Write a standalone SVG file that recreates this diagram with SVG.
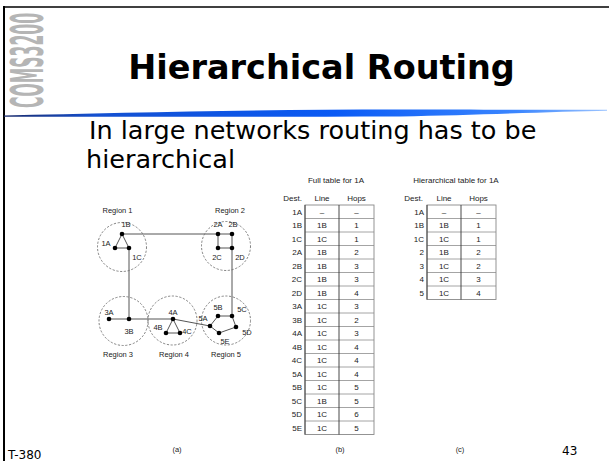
<svg xmlns="http://www.w3.org/2000/svg" width="609" height="461" viewBox="0 0 609 461">
<defs>
<linearGradient id="sw" x1="0" y1="0" x2="1" y2="0">
<stop offset="0" stop-color="#1a2a6a"/>
<stop offset="0.15" stop-color="#1450d0"/>
<stop offset="0.55" stop-color="#0a5af5"/>
<stop offset="0.85" stop-color="#3b86ff"/>
<stop offset="1" stop-color="#9cc4ff"/>
</linearGradient>
<style>
.fig{font-family:"Liberation Sans",Arial,sans-serif;font-size:7.5px;fill:#222}
.c{text-anchor:middle}
.r{text-anchor:end}
.reg{fill:none;stroke:#666;stroke-width:0.8;stroke-dasharray:2.2 1.6}
.ln{stroke:#555;stroke-width:1;fill:none}
.dot{fill:#000}
.hl{stroke:#9a9a9a;stroke-width:0.9}
.vl{stroke:#333;stroke-width:0.9}
.ob{fill:none;stroke:#888;stroke-width:0.9}
.tb{font-family:"Liberation Sans",Arial,sans-serif;font-size:8px;fill:#222}
.ver{font-family:"DejaVu Sans",Verdana,sans-serif;fill:#000}
</style>
</defs>
<rect x="0" y="0" width="609" height="461" fill="#fff"/>
<!-- frame -->
<line x1="3" y1="7" x2="609" y2="7" stroke="#000" stroke-width="1.5"/>
<line x1="4" y1="6" x2="4" y2="461" stroke="#000" stroke-width="2"/>
<!-- side label -->
<text transform="translate(43,108) rotate(-90) scale(0.38,1)" font-family="'DejaVu Sans Condensed','DejaVu Sans',sans-serif" font-weight="bold" font-size="45" fill="#b5b5b5" textLength="250" lengthAdjust="spacingAndGlyphs">COMS3200</text>
<!-- swoosh -->
<path d="M4 115.5 C120 113 250 109.5 400 109.5 C480 109.5 560 110 607 109.8 L607 110.8 C560 111.5 480 115 400 116.5 C250 117 120 116.5 4 116.8 Z" fill="url(#sw)"/>
<!-- title -->
<text class="ver" x="321.5" y="79" font-size="33.5" font-weight="bold" text-anchor="middle">Hierarchical Routing</text>
<text class="ver" x="89" y="139" font-size="25.5">In large networks routing has to be</text>
<text class="ver" x="86" y="168" font-size="25.5">hierarchical</text>

<!-- network (a) -->
<g id="connectors">
<path class="ln" d="M115 248 L122 234 L129 248 Z"/>
<path class="ln" d="M122 234 H218"/>
<path class="ln" d="M218 234 H232 V316 M218 234 V248 H232"/>
<path class="ln" d="M129 248 V319"/>
<path class="ln" d="M109 319 H173"/>
<path class="ln" d="M173 319 L166 333 H180 Z"/>
<path class="ln" d="M173 319 L210 326"/>
<path class="ln" d="M210 326 L218 316 H232 L236 327 L219 333 Z"/>
</g>
<g id="region1">
<circle class="reg" cx="122" cy="247" r="24.5"/>
<text class="fig c" x="117.5" y="212.7">Region 1</text>
<circle class="dot" cx="115" cy="248" r="2.3"/><circle class="dot" cx="122" cy="234" r="2.3"/><circle class="dot" cx="129" cy="248" r="2.3"/>
<text class="fig c" x="126" y="226.7">1B</text>
<text class="fig c" x="106" y="245.7">1A</text>
<text class="fig c" x="137" y="259.7">1C</text>
</g>
<g id="region2">
<circle class="reg" cx="226" cy="246" r="24.5"/>
<text class="fig c" x="230" y="212.7">Region 2</text>
<circle class="dot" cx="218" cy="234" r="2.3"/><circle class="dot" cx="232" cy="234" r="2.3"/><circle class="dot" cx="218" cy="248" r="2.3"/><circle class="dot" cx="232" cy="248" r="2.3"/>
<text class="fig c" x="218" y="226.7">2A</text>
<text class="fig c" x="233" y="226.7">2B</text>
<text class="fig c" x="217" y="259.7">2C</text>
<text class="fig c" x="240" y="259.7">2D</text>
</g>
<g id="region3">
<circle class="reg" cx="123.5" cy="321" r="24.5"/>
<text class="fig c" x="118" y="356.7">Region 3</text>
<circle class="dot" cx="109" cy="319" r="2.3"/><circle class="dot" cx="129" cy="319" r="2.3"/>
<text class="fig c" x="109" y="314.7">3A</text>
<text class="fig c" x="129" y="333.7">3B</text>
</g>
<g id="region4">
<circle class="reg" cx="172.5" cy="320.5" r="24.5"/>
<text class="fig c" x="174" y="356.7">Region 4</text>
<circle class="dot" cx="173" cy="319" r="2.3"/><circle class="dot" cx="166" cy="333" r="2.3"/><circle class="dot" cx="180" cy="333" r="2.3"/>
<text class="fig c" x="173" y="314.7">4A</text>
<text class="fig c" x="158" y="329.7">4B</text>
<text class="fig c" x="187" y="333.7">4C</text>
</g>
<g id="region5">
<circle class="reg" cx="226" cy="320.5" r="24.5"/>
<text class="fig c" x="226" y="356.7">Region 5</text>
<circle class="dot" cx="210" cy="326" r="2.3"/><circle class="dot" cx="218" cy="316" r="2.3"/><circle class="dot" cx="232" cy="316" r="2.3"/><circle class="dot" cx="236" cy="327" r="2.3"/><circle class="dot" cx="219" cy="333" r="2.3"/>
<text class="fig c" x="203" y="320.7">5A</text>
<text class="fig c" x="218" y="309.7">5B</text>
<text class="fig c" x="242" y="311.7">5C</text>
<text class="fig c" x="247" y="334.7">5D</text>
<text class="fig c" x="225" y="343.7">5E</text>
</g>
<text class="fig c" x="177" y="452">(a)</text>

<!-- table (b) -->
<g id="tableB">
<text class="tb c" x="336" y="183">Full table for 1A</text>
<text class="tb r" x="302" y="201">Dest.</text>
<text class="tb c" x="322" y="201">Line</text>
<text class="tb c" x="356.5" y="201">Hops</text>
<g class="hl">
<line x1="305" y1="218.5" x2="374" y2="218.5"/><line x1="305" y1="232" x2="374" y2="232"/><line x1="305" y1="245.5" x2="374" y2="245.5"/>
<line x1="305" y1="259" x2="374" y2="259"/><line x1="305" y1="272.5" x2="374" y2="272.5"/><line x1="305" y1="286" x2="374" y2="286"/>
<line x1="305" y1="299.5" x2="374" y2="299.5"/><line x1="305" y1="313" x2="374" y2="313"/><line x1="305" y1="326.5" x2="374" y2="326.5"/>
<line x1="305" y1="340" x2="374" y2="340"/><line x1="305" y1="353.5" x2="374" y2="353.5"/><line x1="305" y1="367" x2="374" y2="367"/>
<line x1="305" y1="380.5" x2="374" y2="380.5"/><line x1="305" y1="394" x2="374" y2="394"/><line x1="305" y1="407.5" x2="374" y2="407.5"/>
<line x1="305" y1="421" x2="374" y2="421"/>
</g>
<rect class="ob" x="305" y="205" width="69" height="229.5"/>
<line class="vl" x1="305" y1="205" x2="305" y2="434.5"/>
<line class="vl" x1="339" y1="205" x2="339" y2="434.5"/>
<g class="tb">
<text class="r" x="302" y="214.6">1A</text><text class="c" x="322" y="214.6">–</text><text class="c" x="356.5" y="214.6">–</text>
<text class="r" x="302" y="228.1">1B</text><text class="c" x="322" y="228.1">1B</text><text class="c" x="356.5" y="228.1">1</text>
<text class="r" x="302" y="241.6">1C</text><text class="c" x="322" y="241.6">1C</text><text class="c" x="356.5" y="241.6">1</text>
<text class="r" x="302" y="255.1">2A</text><text class="c" x="322" y="255.1">1B</text><text class="c" x="356.5" y="255.1">2</text>
<text class="r" x="302" y="268.6">2B</text><text class="c" x="322" y="268.6">1B</text><text class="c" x="356.5" y="268.6">3</text>
<text class="r" x="302" y="282.1">2C</text><text class="c" x="322" y="282.1">1B</text><text class="c" x="356.5" y="282.1">3</text>
<text class="r" x="302" y="295.6">2D</text><text class="c" x="322" y="295.6">1B</text><text class="c" x="356.5" y="295.6">4</text>
<text class="r" x="302" y="309.1">3A</text><text class="c" x="322" y="309.1">1C</text><text class="c" x="356.5" y="309.1">3</text>
<text class="r" x="302" y="322.6">3B</text><text class="c" x="322" y="322.6">1C</text><text class="c" x="356.5" y="322.6">2</text>
<text class="r" x="302" y="336.1">4A</text><text class="c" x="322" y="336.1">1C</text><text class="c" x="356.5" y="336.1">3</text>
<text class="r" x="302" y="349.6">4B</text><text class="c" x="322" y="349.6">1C</text><text class="c" x="356.5" y="349.6">4</text>
<text class="r" x="302" y="363.1">4C</text><text class="c" x="322" y="363.1">1C</text><text class="c" x="356.5" y="363.1">4</text>
<text class="r" x="302" y="376.6">5A</text><text class="c" x="322" y="376.6">1C</text><text class="c" x="356.5" y="376.6">4</text>
<text class="r" x="302" y="390.1">5B</text><text class="c" x="322" y="390.1">1C</text><text class="c" x="356.5" y="390.1">5</text>
<text class="r" x="302" y="403.6">5C</text><text class="c" x="322" y="403.6">1B</text><text class="c" x="356.5" y="403.6">5</text>
<text class="r" x="302" y="417.1">5D</text><text class="c" x="322" y="417.1">1C</text><text class="c" x="356.5" y="417.1">6</text>
<text class="r" x="302" y="430.6">5E</text><text class="c" x="322" y="430.6">1C</text><text class="c" x="356.5" y="430.6">5</text>
</g>
<text class="fig c" x="340" y="452">(b)</text>
</g>

<!-- table (c) -->
<g id="tableC">
<text class="tb c" x="456" y="183">Hierarchical table for 1A</text>
<text class="tb r" x="423" y="201">Dest.</text>
<text class="tb c" x="444" y="201">Line</text>
<text class="tb c" x="478.5" y="201">Hops</text>
<g class="hl">
<line x1="427" y1="218.5" x2="496" y2="218.5"/><line x1="427" y1="232" x2="496" y2="232"/><line x1="427" y1="245.5" x2="496" y2="245.5"/>
<line x1="427" y1="259" x2="496" y2="259"/><line x1="427" y1="272.5" x2="496" y2="272.5"/><line x1="427" y1="286" x2="496" y2="286"/>
</g>
<rect class="ob" x="427" y="205" width="69" height="94.5"/>
<line class="vl" x1="427" y1="205" x2="427" y2="299.5"/>
<line class="vl" x1="461" y1="205" x2="461" y2="299.5"/>
<g class="tb">
<text class="r" x="424" y="214.6">1A</text><text class="c" x="444" y="214.6">–</text><text class="c" x="478.5" y="214.6">–</text>
<text class="r" x="424" y="228.1">1B</text><text class="c" x="444" y="228.1">1B</text><text class="c" x="478.5" y="228.1">1</text>
<text class="r" x="424" y="241.6">1C</text><text class="c" x="444" y="241.6">1C</text><text class="c" x="478.5" y="241.6">1</text>
<text class="r" x="424" y="255.1">2</text><text class="c" x="444" y="255.1">1B</text><text class="c" x="478.5" y="255.1">2</text>
<text class="r" x="424" y="268.6">3</text><text class="c" x="444" y="268.6">1C</text><text class="c" x="478.5" y="268.6">2</text>
<text class="r" x="424" y="282.1">4</text><text class="c" x="444" y="282.1">1C</text><text class="c" x="478.5" y="282.1">3</text>
<text class="r" x="424" y="295.6">5</text><text class="c" x="444" y="295.6">1C</text><text class="c" x="478.5" y="295.6">4</text>
</g>
<text class="fig c" x="460" y="452">(c)</text>
</g>

<!-- footer -->
<text class="ver" x="8" y="459" font-size="12">T-380</text>
<text class="ver" x="562" y="455" font-size="12">43</text>
</svg>
